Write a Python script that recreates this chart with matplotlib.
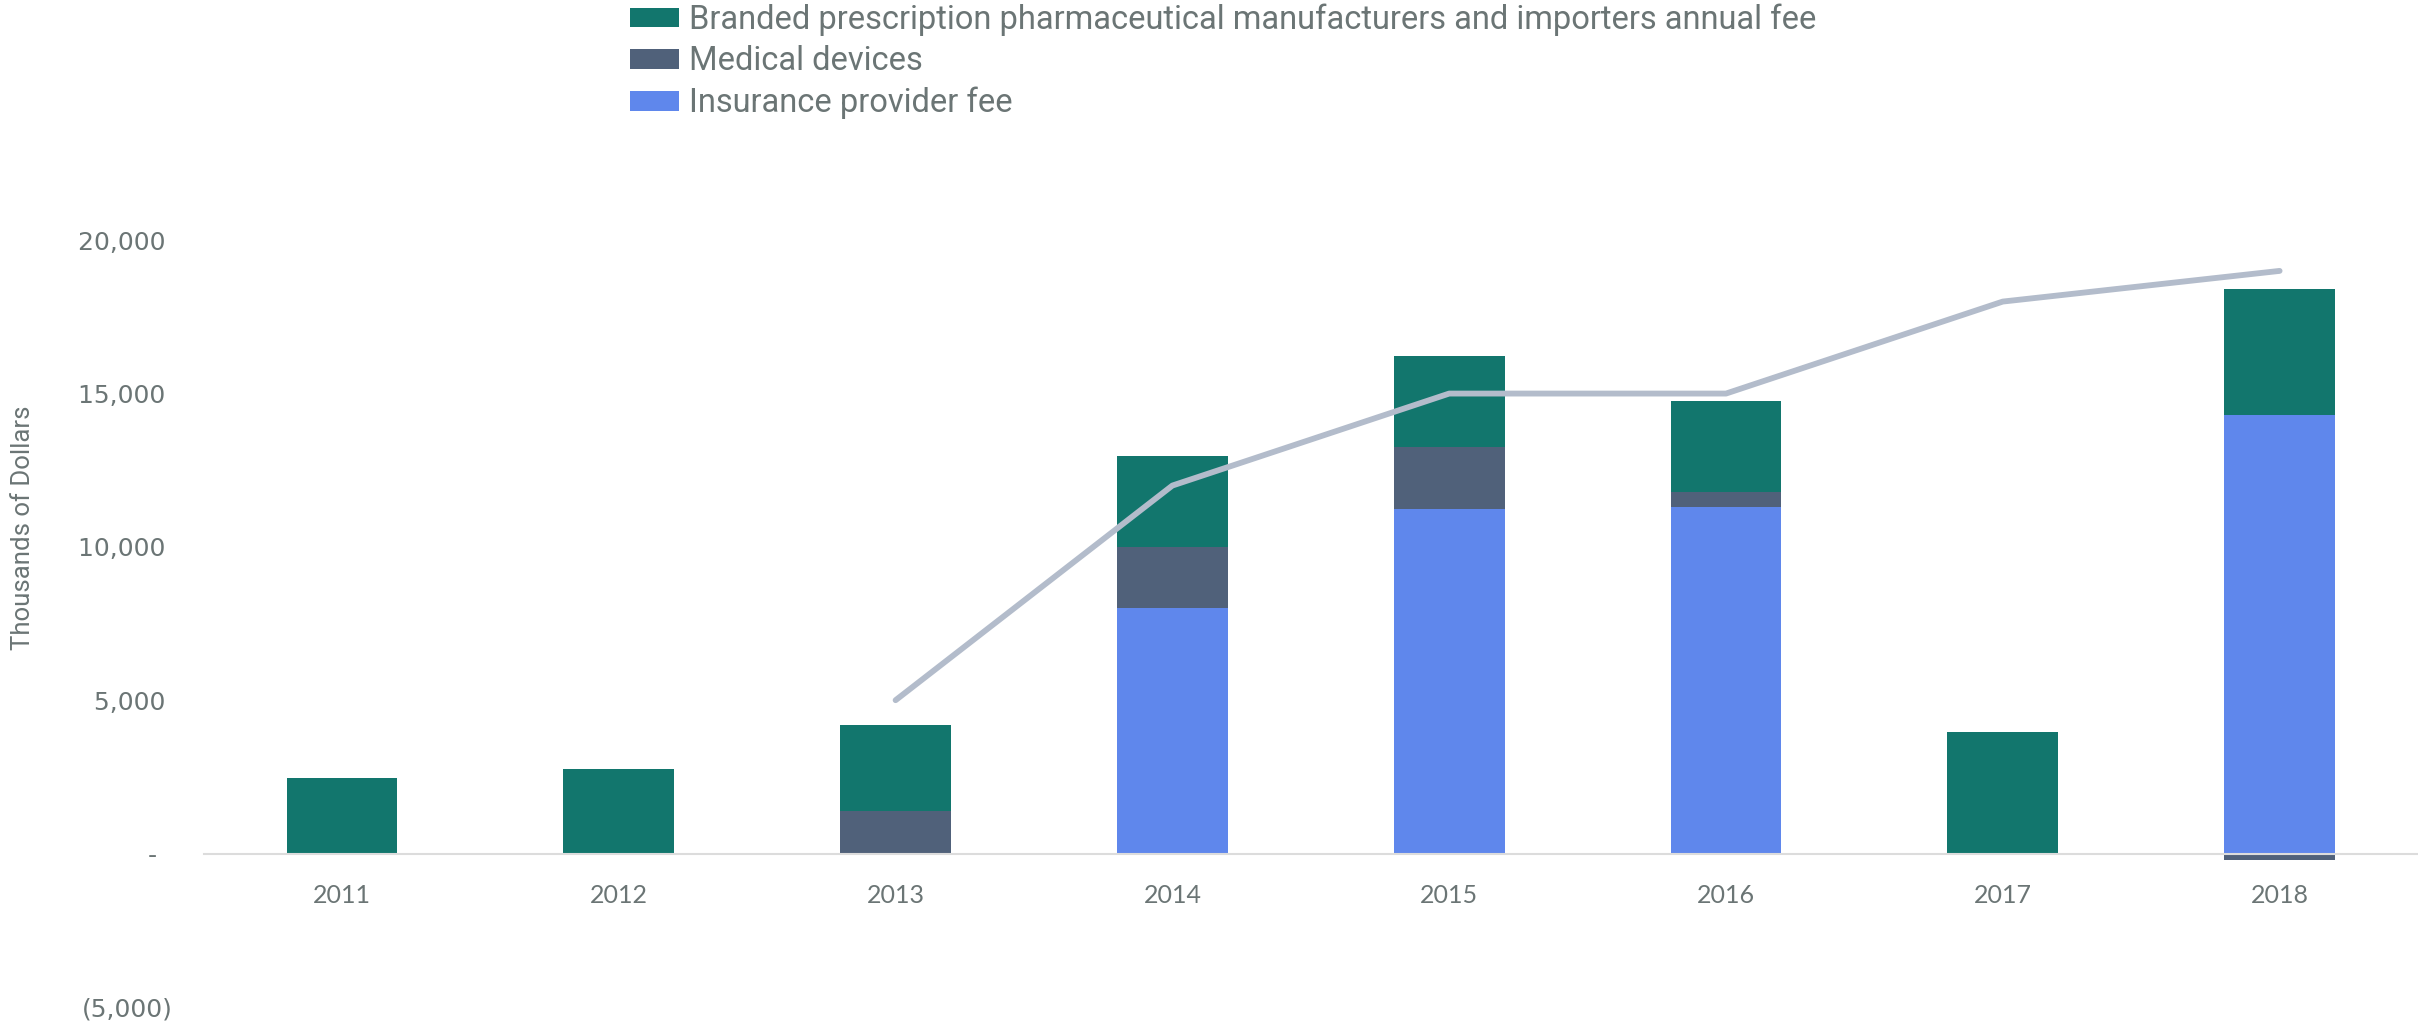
import numpy as np
import matplotlib
matplotlib.use("Agg")
import matplotlib.pyplot as plt

years = ["2011", "2012", "2013", "2014", "2015", "2016", "2017", "2018"]
insurance_fee = [0, 0, 0, 8000, 11250, 11300, 0, 14300]
medical_devices = [0, 0, 1400, 2000, 2000, 500, 0, -200]
branded_pharma = [2450, 2750, 2800, 2950, 2980, 2970, 3950, 4100]
line_years = ["2013", "2014", "2015", "2016", "2017", "2018"]
line_values = [5000, 12000, 15000, 15000, 18000, 19000]

series = [
    ("Insurance provider fee", insurance_fee, "#5f87ec"),
    ("Medical devices", medical_devices, "#50617a"),
    ("Branded prescription pharmaceutical manufacturers and importers annual fee", branded_pharma, "#12766d"),
]

text_color = "#6b7575"
plt.rcParams["font.family"] = ["Lato", "DejaVu Sans"]

fig = plt.figure(figsize=(24.18, 10.28), dpi=100)
ax = fig.add_axes([0.0842, 0.0206, 0.9158, 0.7457])

# stacked bars: positives build up from zero, negatives hang below it
x = np.arange(len(years))
pos_base = np.zeros(len(years))
neg_base = np.zeros(len(years))
handles = {}
for name, vals, color in series:
    vals = np.array(vals, dtype=float)
    bottom = np.where(vals >= 0, pos_base, neg_base)
    bars = ax.bar(x, vals, width=0.4, bottom=bottom, color=color, label=name, zorder=2)
    handles[name] = bars
    pos_base += np.clip(vals, 0, None)
    neg_base += np.clip(vals, None, 0)

lx = [years.index(y) for y in line_years]
ax.plot(lx, line_values, color="#b3bccb", linewidth=4.2, solid_capstyle="round", zorder=3)

ax.set_xlim(-0.5, 7.5)
ax.set_ylim(-5000, 20000)
ax.set_xticks(x)
ax.set_xticklabels(years)
ax.set_yticks([-5000, 0, 5000, 10000, 15000, 20000])
ax.set_yticklabels(["(5,000)", "-  ", "5,000 ", "10,000 ", "15,000 ", "20,000 "])

for side in ["top", "right", "left"]:
    ax.spines[side].set_visible(False)
ax.spines["bottom"].set_position(("data", 0))
ax.spines["bottom"].set_color("#dcdcdc")
ax.spines["bottom"].set_linewidth(1.5)
ax.tick_params(axis="x", length=0, labelsize=18, colors=text_color, pad=22)
ax.tick_params(axis="y", length=0, labelsize=18, colors=text_color, pad=22)
for lbl in ax.get_yticklabels():
    lbl.set_family(["DejaVu Sans"])

fig.text(0.0095, 0.487, "Thousands of Dollars", rotation=90, ha="center", va="center",
         fontsize=18.5, color=text_color, family=["Roboto", "DejaVu Sans"])

order = [series[2][0], series[1][0], series[0][0]]
leg = fig.legend([handles[n] for n in order], order, loc="upper left",
                 bbox_to_anchor=(0.258, 1.003), frameon=False, ncol=1,
                 handlelength=1.5, handleheight=0.55, handletextpad=0.3,
                 labelspacing=0.29, borderaxespad=0, borderpad=0.2,
                 prop={"family": ["Roboto", "DejaVu Sans"], "size": 23.5})
for t in leg.get_texts():
    t.set_color(text_color)

fig.savefig("out.png", dpi=100)
